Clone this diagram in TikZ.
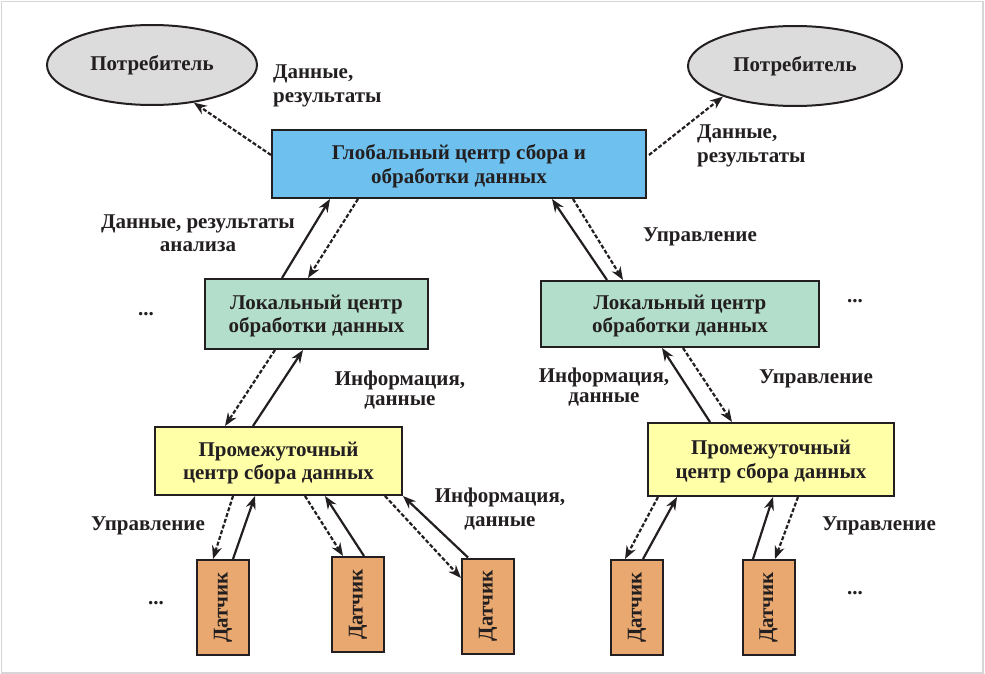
\documentclass[tikz,border=0pt]{standalone}
\usepackage{fontspec}
\setmainfont{Liberation Serif}
\usetikzlibrary{shapes.geometric,arrows.meta,calc}
\definecolor{globfill}{RGB}{110,193,238}
\definecolor{locfill}{RGB}{180,222,204}
\definecolor{midfill}{RGB}{255,255,168}
\definecolor{senfill}{RGB}{232,168,112}
\definecolor{elfill}{RGB}{220,220,220}
\definecolor{txt}{RGB}{35,31,32}
\definecolor{frame}{RGB}{214,214,214}
\tikzset{
  x=1pt,y=1pt,
  box/.style={draw=txt,line width=2pt,inner sep=0pt,align=center,text=txt,
    font=\bfseries\fontsize{21}{23.5}\selectfont},
  consumer/.style={ellipse,draw=txt,line width=2pt,fill=elfill,minimum width=210,minimum height=80,
    inner sep=0pt,text=txt,font=\bfseries\fontsize{21}{23}\selectfont},
  lbl/.style={inner sep=0pt,text=txt,font=\bfseries\fontsize{21}{23.5}\selectfont},
  lbltight/.style={lbl,font=\bfseries\fontsize{21}{19.5}\selectfont},
  sensor/.style={box,fill=senfill,minimum width=52,minimum height=95},
  sol/.style={draw=txt,line width=2.2pt,-{Stealth[length=13pt,width=10pt]}},
  dsh/.style={sol,dash pattern=on 4pt off 2pt},
}
\begin{document}
\begin{tikzpicture}
\useasboundingbox (0,0) rectangle (985,-674);
\draw[frame,line width=1.5pt] (1.5,-1.5) rectangle (983,-673);

% nodes
\node[consumer] (c1) at (152,-65) {Потребитель};
\node[consumer,minimum width=214] (c2) at (795,-66) {Потребитель};
\node[box,fill=globfill,minimum width=374,minimum height=68] (glob) at (459,-164)
  {\rule{0pt}{19pt}Глобальный центр сбора и\\обработки данных};
\node[box,fill=locfill,minimum width=223,minimum height=70] (ll) at (316.5,-314)
  {\rule{0pt}{18pt}Локальный центр\\обработки данных};
\node[box,fill=locfill,minimum width=278,minimum height=66] (lr) at (680,-314)
  {\rule{0pt}{18pt}Локальный центр\\обработки данных};
\node[box,fill=midfill,minimum width=247,minimum height=68] (ml) at (278.5,-461)
  {\rule{0pt}{18pt}Промежуточный\\центр сбора данных};
\node[box,fill=midfill,minimum width=246,minimum height=73] (mr) at (771,-459.5)
  {\rule{0pt}{18pt}Промежуточный\\центр сбора данных};
\node[sensor] (s1) at (223,-607.5) {\rotatebox{90}{Датчик}};
\node[sensor] (s2) at (358,-604.5) {\rotatebox{90}{Датчик}};
\node[sensor] (s3) at (488,-606) {\rotatebox{90}{Датчик}};
\node[sensor] (s4) at (637,-607.5) {\rotatebox{90}{Датчик}};
\node[sensor] (s5) at (768.5,-607.5) {\rotatebox{90}{Датчик}};

% labels
\node[lbl,anchor=west,align=left] (t1) at (273,-86) {Данные,\\результаты};
\node[lbl,anchor=west,align=left] (t2) at (697,-146) {Данные,\\результаты};
\node[lbl,align=center] (t3) at (198,-233) {Данные, результаты\\анализа};
\node[lbl] (t4) at (700,-237) {Управление};
\node[lbltight,align=center] (t5) at (400,-390) {Информация,\\данные};
\node[lbltight,align=center] (t6) at (604,-387) {Информация,\\данные};
\node[lbl] (t7) at (816,-379) {Управление};
\node[lbl] (t8) at (148,-526) {Управление};
\node[lbl,align=center] (t9) at (500,-509) {Информация,\\данные};
\node[lbl] (t10) at (879,-526) {Управление};
\node[lbl] (d1) at (146,-314) {...};
\node[lbl] (d2) at (855,-301) {...};
\node[lbl] (d3) at (156,-603) {...};
\node[lbl] (d4) at (855,-593) {...};

% global -> consumers
\draw[dsh] ($(glob.west)+(0,9)$) -- (c1.-42);
\draw[dsh] ($(glob.east)+(2,9)$) -- (c2.-157);

% local <-> global
\draw[sol] (282,0 |- ll.north) -- (330,0 |- glob.south);
\draw[dsh] (358,0 |- glob.south) -- (308,0 |- ll.north);
\draw[sol] (607,0 |- lr.north) -- (552,0 |- glob.south);
\draw[dsh] (573,0 |- glob.south) -- (623,0 |- lr.north);

% intermediate <-> local
\draw[dsh] (275,0 |- ll.south) -- (225,0 |- ml.north);
\draw[sol] (253,0 |- ml.north) -- (303,0 |- ll.south);
\draw[sol] (710,0 |- mr.north) -- (662,0 |- lr.south);
\draw[dsh] (683,0 |- lr.south) -- (732,0 |- mr.north);

% sensors <-> intermediate
\draw[dsh] (233,0 |- ml.south) -- (213,0 |- s1.north);
\draw[sol] (233,0 |- s1.north) -- (255,0 |- ml.south);
\draw[dsh] (305,0 |- ml.south) -- (343,0 |- s2.north);
\draw[sol] (364,0 |- s2.north) -- (325,0 |- ml.south);
\draw[dsh] (385,0 |- ml.south) -- (s3.west |- 0,-578);
\draw[sol] (468,0 |- s3.north) -- (ml.south east);
\draw[dsh] (658,0 |- mr.south) -- (625,0 |- s4.north);
\draw[sol] (643,0 |- s4.north) -- (677,0 |- mr.south);
\draw[sol] (753,0 |- s5.north) -- (773,0 |- mr.south);
\draw[dsh] (798,0 |- mr.south) -- (775,0 |- s5.north);
\end{tikzpicture}
\end{document}
